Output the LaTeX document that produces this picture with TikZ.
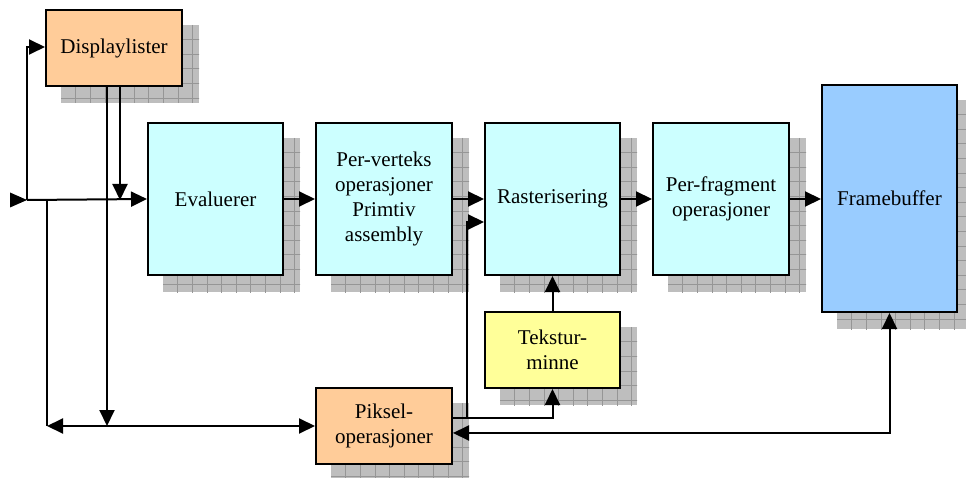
\documentclass[tikz,border=0pt]{standalone}
\usepackage{fontspec}
\setmainfont{Liberation Serif}
\usetikzlibrary{arrows.meta,backgrounds}

\definecolor{peach}{RGB}{255,204,153}
\definecolor{paleCyan}{RGB}{204,255,255}
\definecolor{skyBlue}{RGB}{153,204,255}
\definecolor{paleYellow}{RGB}{255,255,153}
\definecolor{shadowFill}{RGB}{190,190,190}
\definecolor{shadowGrid}{RGB}{150,150,150}

% gridded drop shadow behind a block, offset 16pt right and down
\newcommand\dropshadow[1]{%
  \begin{scope}
    \clip ([xshift=16pt,yshift=-16pt]#1.north west) rectangle ([xshift=16pt,yshift=-16pt]#1.south east);
    \fill[shadowFill] ([xshift=16pt,yshift=-16pt]#1.north west) rectangle ([xshift=16pt,yshift=-16pt]#1.south east);
    \begin{scope}[shift={([xshift=16pt,yshift=-16pt]#1.north west)}]
      \foreach \g in {14.6,29.2,...,300}{%
        \draw[gridline] (\g,0) -- (\g,300);
        \draw[gridline] (0,\g) -- (300,\g);}
    \end{scope}
  \end{scope}}

\begin{document}
\begin{tikzpicture}[x=1pt,y=-1pt,
  block/.style={draw=black, line width=2pt, align=center, inner sep=0pt,
    font=\fontsize{21}{25}\selectfont},
  gridline/.style={draw=shadowGrid, line width=0.6pt},
  tip/.style={-{Triangle[length=16pt,width=15pt]}},
  tips/.style={{Triangle[length=16pt,width=15pt]}-{Triangle[length=16pt,width=15pt]}},
  link/.style={line width=2pt, draw=black}]
\useasboundingbox (0,0) rectangle (966,478);

% blocks
\node[block, fill=peach, minimum width=136pt, minimum height=76pt] (disp) at (114,48) {Displaylister};
\node[block, fill=paleCyan, minimum width=135pt, minimum height=152pt] (eval) at (215.5,199) {Evaluerer};
\node[block, fill=paleCyan, minimum width=136pt, minimum height=152pt] (pv) at (384,199) {Per-verteks\\operasjoner\\Primtiv\\assembly};
\node[block, fill=paleCyan, minimum width=135pt, minimum height=152pt] (ras) at (552.5,199) {Rasterisering};
\node[block, fill=paleCyan, minimum width=136pt, minimum height=152pt] (pf) at (721,199) {Per-fragment\\operasjoner};
\node[block, fill=skyBlue, minimum width=135pt, minimum height=227pt] (fb) at (889.5,198.5) {Framebuffer};
\node[block, fill=paleYellow, minimum width=135pt, minimum height=76pt] (tex) at (552.5,350) {Tekstur-\\minne};
\node[block, fill=peach, minimum width=136pt, minimum height=76pt] (pix) at (384,426) {Piksel-\\operasjoner};

\begin{pgfonlayer}{background}
  \foreach \b in {disp,eval,pv,ras,pf,fb,tex,pix}{\dropshadow{\b}}
\end{pgfonlayer}

% junction points on the input side
\coordinate (in) at (10,200);
\coordinate (j1) at (27,200);
\coordinate (j2) at (47,200);
\coordinate (j3) at (47,426);

% input triangle
\fill (in) -- ++(17,0) -- ++(-17,-7.5) -- cycle;
\fill (in) -- ++(17,0) -- ++(-17,7.5) -- cycle;

% input bus
\draw[link, tip] (j1) -- (eval.west);
\draw[link, tip] (j1) |- ([yshift=1pt]disp.west);
\draw[link] (j2) -- (j3);
\draw[link, tips] (j3) -- (pix.west);

% display lists feeding the evaluator and the pixel path
\draw[link, tip] ([xshift=-7pt]disp.south) -- ([xshift=-7pt]disp.south |- j3);
\draw[link, tip] ([xshift=6pt]disp.south) -- ([xshift=6pt]disp.south |- j1);

% main pipeline
\draw[link, tip] (eval.east) -- (pv.west);
\draw[link, tip] (pv.east) -- (ras.west);
\draw[link, tip] (ras.east) -- (pf.west);
\draw[link, tip] (pf.east) -- (pf.east -| fb.west);

% pixel operations branch
\draw[link, tip] ([yshift=8pt]pix.east) -- ++(14,0) |- ([yshift=-23pt]ras.west);
\draw[link, tip] ([yshift=8pt]pix.east) -| (tex.south);
\draw[link, tip] (tex.north) -- (ras.south);
\draw[link, tips] ([yshift=-7pt]pix.east) -| (fb.south);
\end{tikzpicture}
\end{document}
